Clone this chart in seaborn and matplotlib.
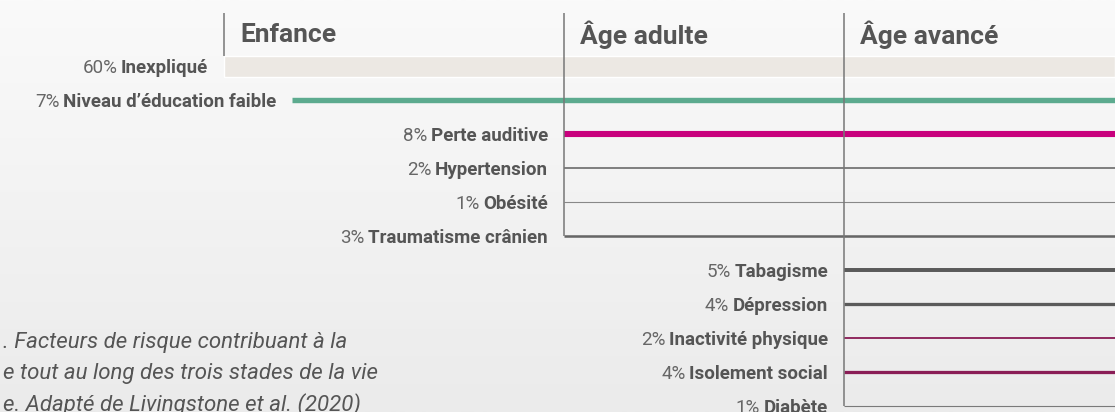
import numpy as np
import pandas as pd
import matplotlib.pyplot as plt
import seaborn as sns
from matplotlib.colors import LinearSegmentedColormap

# ==========================================================
# Data
# ==========================================================

stage_names = ["Enfance", "Âge adulte", "Âge avancé"]

factors = [
    "Inexpliqué",
    "Niveau d’éducation faible",
    "Perte auditive",
    "Hypertension",
    "Obésité",
    "Traumatisme crânien",
    "Tabagisme",
    "Dépression",
    "Inactivité physique",
    "Isolement social",
    "Diabète",
]
pcts = [60, 7, 8, 2, 1, 3, 5, 4, 2, 4, 1]
stages = ["Enfance", "Enfance",
          "Âge adulte", "Âge adulte", "Âge adulte", "Âge adulte",
          "Âge avancé", "Âge avancé", "Âge avancé", "Âge avancé", "Âge avancé"]

caption = [
    ". Facteurs de risque contribuant à la",
    "e tout au long des trois stades de la vie",
    "e. Adapté de Livingstone et al. (2020)",
]

# ==========================================================
# Layout / styles
# ==========================================================

W, H = 1115, 412
row0_px, row_step = 66, 34
stage_x = {"Enfance": 224, "Âge adulte": 564, "Âge avancé": 844}
x_right = W
nudge = {"Niveau d’éducation faible": 68}   # line shifted so the long label fits
gap = 16
band_h = 21 / row_step

colors = {
    "Niveau d’éducation faible": "#5dab8f",
    "Perte auditive": "#c8007d",
    "Hypertension": "#777777",
    "Obésité": "#888888",
    "Traumatisme crânien": "#666666",
    "Tabagisme": "#5a5a5a",
    "Dépression": "#5a5a5a",
    "Inactivité physique": "#8a1d56",
    "Isolement social": "#8a1d56",
    "Diabète": "#7a7a7a",
}
txt_dark = "#555555"
txt_pct = "#666666"

sns.set_theme(style="white")
plt.rcParams['font.family'] = ['Roboto', 'DejaVu Sans']

fig = plt.figure(figsize=(W / 100, H / 100), dpi=100)

# background gradient
bg = fig.add_axes([0, 0, 1, 1], zorder=0)
bg.imshow(np.linspace(0, 1, 256)[:, None], aspect='auto',
          cmap=LinearSegmentedColormap.from_list('bg', ['#fafafa', '#ebebeb']))
bg.axis('off')

ax = fig.add_axes([0, 0, 1, 1], zorder=1)
ax.set_facecolor('none')

# ==========================================================
# Line table
# ==========================================================

starts = [stage_x[s] + nudge.get(f, 0) for f, s in zip(factors, stages)]
rows = []
for i, (f, p, x0) in enumerate(zip(factors, pcts, starts)):
    if f == "Inexpliqué":
        continue
    rows.append({"factor": f, "pct": p, "x": x0, "row": i})
    rows.append({"factor": f, "pct": p, "x": x_right, "row": i})
df = pd.DataFrame(rows)

# unexplained band
i_band = factors.index("Inexpliqué")
ax.barh(i_band, x_right - starts[i_band], left=starts[i_band], height=band_h,
        color="#ece8e3", zorder=1)

sns.lineplot(data=df, x="x", y="row", hue="factor", palette=colors,
             size="pct", sizes=(0.8, 4.4), units="factor", estimator=None,
             legend=False, ax=ax, zorder=2)
for ln in ax.lines:
    ln.set_solid_capstyle('butt')

# stage dividers
for k, s in enumerate(stage_names):
    idx = [i for i, (st, f) in enumerate(zip(stages, factors)) if st == s and f not in nudge]
    end = idx[-1] if factors[idx[-1]] != "Inexpliqué" else idx[-1] - band_h / 2
    ax.plot([stage_x[s], stage_x[s]], [-1.56, end], color="#777777", lw=1.1, zorder=3,
            solid_capstyle='butt')
    ax.text(stage_x[s] + gap, -1, s, fontsize=19, fontweight='bold', color=txt_dark,
            ha='left', va='center_baseline')

# labels
for i, (f, p, x0) in enumerate(zip(factors, pcts, starts)):
    t = ax.text(x0 - gap, i, f, fontsize=13.5, fontweight='bold', color=txt_dark,
                ha='right', va='center_baseline')
    ax.annotate(f"{p}%", xy=(0, i), xycoords=(t, 'data'), xytext=(-2.5, 0),
                textcoords='offset points', fontsize=13.5, color=txt_pct,
                ha='right', va='center_baseline')

# caption
for k, line in enumerate(caption):
    fig.text(3 / W, 1 - (340 + 31 * k) / H, line, fontsize=16, style='italic',
             color=txt_dark, ha='left', va='center_baseline')

ax.set_xlim(0, W)
ax.set_ylim((H - row0_px) / row_step, -row0_px / row_step)
ax.set_axis_off()

fig.savefig("out.png", dpi=100)
